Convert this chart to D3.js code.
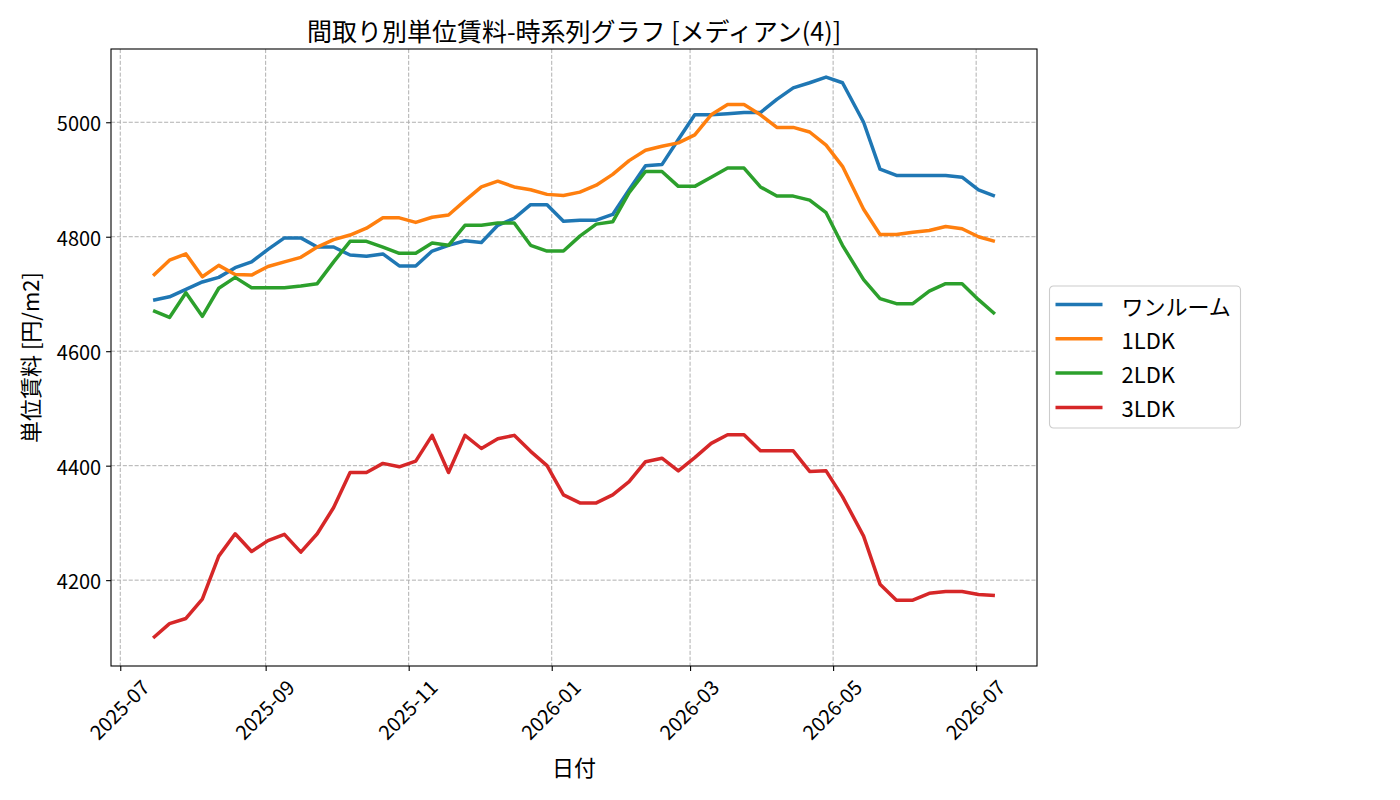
<!DOCTYPE html>
<html>
<head>
<meta charset="utf-8">
<script src="https://cdn.jsdelivr.net/npm/d3@7"></script>
<style>
  html, body { margin: 0; padding: 0; background: #fff; }
  svg { display: block; font-family: "Noto Sans CJK JP", "Noto Sans", sans-serif; }
  svg text { font-family: "Noto Sans CJK JP", "Noto Sans", sans-serif; }
</style>
</head>
<body>
<svg id="chart" width="1400" height="800"></svg>
<script>
// ---------------- DATA ----------------
const dates = ["2025-07-15","2025-07-22","2025-07-29","2025-08-05","2025-08-12","2025-08-19","2025-08-26",
  "2025-09-02","2025-09-09","2025-09-16","2025-09-23","2025-09-30","2025-10-07","2025-10-14","2025-10-21",
  "2025-10-28","2025-11-04","2025-11-11","2025-11-18","2025-11-25","2025-12-02","2025-12-09","2025-12-16",
  "2025-12-23","2025-12-30","2026-01-06","2026-01-13","2026-01-20","2026-01-27","2026-02-03","2026-02-10",
  "2026-02-17","2026-02-24","2026-03-03","2026-03-10","2026-03-17","2026-03-24","2026-03-31","2026-04-07",
  "2026-04-14","2026-04-21","2026-04-28","2026-05-05","2026-05-14","2026-05-21","2026-05-28","2026-06-04",
  "2026-06-11","2026-06-18","2026-06-25","2026-07-02","2026-07-09"];

const seriesNames = ["ワンルーム", "1LDK", "2LDK", "3LDK"];

const oneRoom = [4689,4695,4708,4721,4729,4746,4756,4778,4798,4798,
  4782,4782,4768,4766,4770,4749,4749,4775,4785,4793,
  4790,4820,4832,4856,4856,4827,4829,4829,4839,4882,
  4924,4926,4970,5013,5013,5015,5017,5017,5040,5060,
  5069,5079,5069,5000,4918,4907,4907,4907,4907,4904,
  4882,4871];

const ldk1 = [4732,4759,4770,4730,4750,4734,4733,4748,4756,4764,
  4782,4795,4803,4815,4833,4833,4825,4834,4838,4863,
  4887,4897,4887,4882,4874,4872,4878,4890,4909,4933,
  4951,4958,4964,4978,5013,5031,5031,5013,4991,4991,
  4983,4960,4923,4848,4804,4804,4808,4811,4818,4814,
  4800,4792];

const ldk2 = [4671,4659,4702,4661,4710,4729,4711,4711,4711,4714,
  4718,4756,4792,4792,4782,4771,4771,4789,4785,4820,
  4820,4824,4824,4785,4775,4775,4801,4822,4826,4877,
  4914,4914,4888,4888,4904,4920,4920,4887,4871,4871,
  4864,4842,4785,4725,4692,4683,4683,4705,4718,4718,
  4690,4665];

const ldk3 = [4099,4124,4133,4167,4242,4281,4250,4269,4280,4249,
  4281,4327,4388,4388,4404,4398,4408,4453,4388,4453,
  4430,4447,4453,4425,4400,4349,4335,4335,4349,4372,
  4407,4413,4391,4414,4439,4454,4454,4426,4426,4426,
  4390,4391,4346,4277,4193,4165,4165,4177,4180,4180,
  4175,4173];

const xTickLabels = ["2025-07","2025-09","2025-11","2026-01","2026-03","2026-05","2026-07"];
const yTickValues = [4200, 4400, 4600, 4800, 5000];

const titleText = "間取り別単位賃料-時系列グラフ [メディアン(4)]";
const xLabelText = "日付";
const yLabelText = "単位賃料 [円/m2]";

const colors = ["#1f77b4", "#ff7f0e", "#2ca02c", "#d62728"];

// ---------------- LAYOUT ----------------
const FONT = '"Noto Sans CJK JP", "Noto Sans", sans-serif';
const TICK_FS = "20px";
const plot = { left: 111, right: 1037, top: 49, bottom: 666 };

const parseDay = d3.utcParse("%Y-%m-%d");
const parseMonth = d3.utcParse("%Y-%m");
const xDates = dates.map(parseDay);
const allSeries = [oneRoom, ldk1, ldk2, ldk3];

// matplotlib-like 5% margins
const [xMin, xMax] = d3.extent(xDates);
const xPad = (xMax - xMin) * 0.05;
const allVals = allSeries.flat();
const [yMin, yMax] = d3.extent(allVals);
const yPad = (yMax - yMin) * 0.05;

const x = d3.scaleUtc()
  .domain([new Date(+xMin - xPad), new Date(+xMax + xPad)])
  .range([plot.left, plot.right]);
const y = d3.scaleLinear()
  .domain([yMin - yPad, yMax + yPad])
  .range([plot.bottom, plot.top]);

const svg = d3.select("#chart");
const xTicks = xTickLabels.map(parseMonth);

// grid
const grid = svg.append("g").attr("class", "grid");
grid.selectAll("line.gx").data(xTicks).enter().append("line")
  .attr("x1", d => x(d)).attr("x2", d => x(d))
  .attr("y1", plot.top).attr("y2", plot.bottom)
  .attr("stroke", "#b0b0b0").attr("stroke-width", 1)
  .attr("stroke-dasharray", "4.1,1.8");
grid.selectAll("line.gy").data(yTickValues).enter().append("line")
  .attr("x1", plot.left).attr("x2", plot.right)
  .attr("y1", d => y(d)).attr("y2", d => y(d))
  .attr("stroke", "#b0b0b0").attr("stroke-width", 1)
  .attr("stroke-dasharray", "4.1,1.8");

// lines
svg.append("clipPath").attr("id", "plotclip").append("rect")
  .attr("x", plot.left).attr("y", plot.top)
  .attr("width", plot.right - plot.left).attr("height", plot.bottom - plot.top);

const lineGen = d3.line()
  .x((d, i) => x(xDates[i]))
  .y(d => y(d));

const linesG = svg.append("g").attr("clip-path", "url(#plotclip)");
allSeries.forEach((s, k) => {
  linesG.append("path")
    .datum(s)
    .attr("d", lineGen)
    .attr("fill", "none")
    .attr("stroke", colors[k])
    .attr("stroke-width", 3.5)
    .attr("stroke-linejoin", "round")
    .attr("stroke-linecap", "butt");
});

// axes
const xAxis = d3.axisBottom(x).tickValues(xTicks).tickSize(4.9).tickPadding(4.9)
  .tickFormat(d3.utcFormat("%Y-%m"));
const yAxis = d3.axisLeft(y).tickValues(yTickValues).tickSize(4.9).tickPadding(4.9)
  .tickFormat(d3.format("d"));

const gx = svg.append("g").attr("transform", `translate(0,${plot.bottom})`).call(xAxis);
gx.attr("font-size", null).attr("font-family", null);
gx.select(".domain").remove();
gx.selectAll(".tick line").attr("stroke", "#000").attr("stroke-width", 1.1);
gx.selectAll(".tick text")
  .style("font-size", TICK_FS)
  .style("font-family", FONT)
  .attr("fill", "#000")
  .attr("text-anchor", "middle")
  .attr("dominant-baseline", "central")
  .attr("y", 0)
  .attr("dy", null)
  .attr("transform", "translate(-2,43) rotate(-45)");

const gy = svg.append("g").attr("transform", `translate(${plot.left},0)`).call(yAxis);
gy.attr("font-size", null).attr("font-family", null);
gy.select(".domain").remove();
gy.selectAll(".tick line").attr("stroke", "#000").attr("stroke-width", 1.1);
gy.selectAll(".tick text")
  .style("font-size", TICK_FS)
  .style("font-family", FONT)
  .attr("fill", "#000")
  .attr("dy", null)
  .attr("dominant-baseline", "central");

// frame
svg.append("rect")
  .attr("x", plot.left).attr("y", plot.top)
  .attr("width", plot.right - plot.left).attr("height", plot.bottom - plot.top)
  .attr("fill", "none").attr("stroke", "#000").attr("stroke-width", 1.1);

// title & labels
svg.append("text")
  .attr("x", (plot.left + plot.right) / 2).attr("y", 41)
  .attr("text-anchor", "middle")
  .style("font-size", "25px")
  .attr("fill", "#000")
  .text(titleText);

svg.append("text")
  .attr("x", (plot.left + plot.right) / 2).attr("y", 776)
  .attr("text-anchor", "middle")
  .style("font-size", "22px")
  .attr("fill", "#000")
  .text(xLabelText);

svg.append("text")
  .attr("transform", `translate(39,${(plot.top + plot.bottom) / 2}) rotate(-90)`)
  .attr("text-anchor", "middle")
  .style("font-size", "22px")
  .attr("fill", "#000")
  .text(yLabelText);

// legend
const leg = svg.append("g").attr("transform", "translate(1049.5,286)");
leg.append("rect")
  .attr("x", 0).attr("y", 0).attr("width", 191).attr("height", 142)
  .attr("rx", 4).attr("ry", 4)
  .attr("fill", "#fff").attr("fill-opacity", 0.8)
  .attr("stroke", "#cccccc").attr("stroke-width", 1.1);
seriesNames.forEach((name, k) => {
  const yy = 18.5 + k * 34.3;
  leg.append("line")
    .attr("x1", 6).attr("x2", 53)
    .attr("y1", yy).attr("y2", yy)
    .attr("stroke", colors[k]).attr("stroke-width", 3.5);
  leg.append("text")
    .attr("x", 72).attr("y", yy)
    .attr("dominant-baseline", "central")
    .style("font-size", "22px")
    .attr("fill", "#000")
    .text(name);
});
</script>
</body>
</html>
